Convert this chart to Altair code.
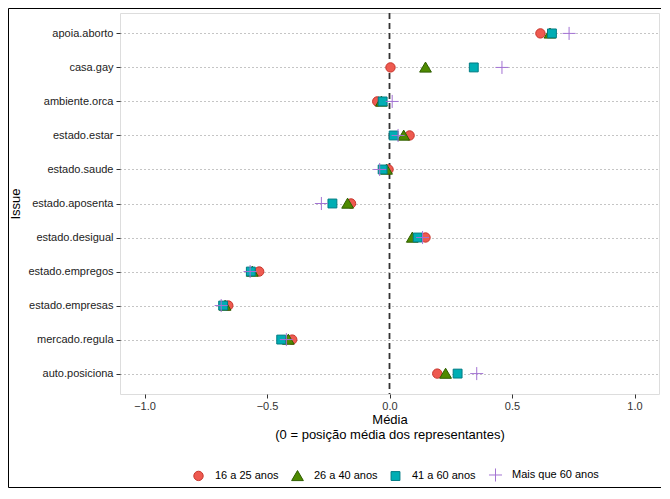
import altair as alt
import pandas as pd

issues = ["apoia.aborto", "casa.gay", "ambiente.orca", "estado.estar", "estado.saude",
          "estado.aposenta", "estado.desigual", "estado.empregos", "estado.empresas",
          "mercado.regula", "auto.posiciona"]
groups = ["16 a 25 anos", "26 a 40 anos", "41 a 60 anos", "Mais que 60 anos"]

v_16_25 = [0.616, 0.004, -0.050, 0.082, -0.004, -0.157, 0.147, -0.532, -0.658, -0.397, 0.195]
v_26_40 = [0.655, 0.147, -0.033, 0.058, -0.012, -0.171, 0.093, -0.560, -0.671, -0.413, 0.229]
v_41_60 = [0.663, 0.344, -0.028, 0.017, -0.028, -0.233, 0.115, -0.566, -0.679, -0.442, 0.278]
v_60p = [0.733, 0.459, 0.011, 0.035, -0.040, -0.278, 0.135, -0.569, -0.687, -0.421, 0.356]

rows = []
for g, vals in zip(groups, [v_16_25, v_26_40, v_41_60, v_60p]):
    for iss, v in zip(issues, vals):
        rows.append({"issue": iss, "grupo": g, "media": v})
df = pd.DataFrame(rows)
zero = pd.DataFrame({"x": [0.0]})

fills = ["#EE5A50", "#4E8A00", "#00AEB4", "#A373D3"]
strokes = ["#C8372E", "#2F5E00", "#007C84", "#A373D3"]
shapes = [
    "M-0.72,0A0.72,0.72 0 1,0 0.72,0A0.72,0.72 0 1,0 -0.72,0Z",
    "M0,-0.82L0.9,0.72L-0.9,0.72Z",
    "M-0.68,-0.68H0.68V0.68H-0.68Z",
    "M-1,0H1M0,-1V1",
]

font = "Liberation Sans"

base = alt.Chart(df)

points = base.mark_point(filled=False, opacity=1, strokeWidth=1, size=170).encode(
    x=alt.X("media:Q", scale=alt.Scale(domain=[-1.1, 1.1], nice=False, zero=False),
            axis=alt.Axis(values=[-1.0, -0.5, 0.0, 0.5, 1.0], format=".1f", grid=False,
                          title=["Média", "(0 = posição média dos representantes)"],
                          titleFontWeight="normal", titleFontSize=13, titleColor="#000",
                          titlePadding=2, labelFontSize=11, labelColor="#333",
                          tickColor="#333", tickSize=4, domain=False, labelPadding=2)),
    y=alt.Y("issue:N", sort=issues, scale=alt.Scale(type="point", padding=0.6),
            axis=alt.Axis(title="Issue", titleFontWeight="normal", titleFontSize=13,
                          titleColor="#000", titlePadding=6, labelFontSize=11,
                          labelColor="#222", tickColor="#333", tickSize=4, domain=False,
                          grid=True, gridColor="#8a8a8a", gridDash=[1, 3], gridWidth=1,
                          labelPadding=3)),
    fill=alt.Fill("grupo:N", sort=groups, scale=alt.Scale(domain=groups, range=fills),
                  legend=alt.Legend(title=None, orient="none", direction="horizontal",
                                    legendX=71, legendY=454, labelFontSize=11,
                                    labelColor="#000", labelOffset=9, columnPadding=10,
                                    symbolStrokeWidth=1, symbolSize=170)),
    stroke=alt.Stroke("grupo:N", sort=groups, scale=alt.Scale(domain=groups, range=strokes)),
    shape=alt.Shape("grupo:N", sort=groups, scale=alt.Scale(domain=groups, range=shapes)),
)

zline = alt.Chart(zero).mark_rule(color="#333", strokeWidth=1.8, strokeDash=[6, 4]).encode(
    x="x:Q"
)

border = alt.Chart(zero).mark_rect(fill=None, stroke="#000", strokeWidth=1, clip=False).encode(
    x=alt.value(-111.5), x2=alt.value(541.5), y=alt.value(-4.5), y2=alt.value(474.5)
)

chart = alt.layer(zline, points, border).properties(
    width=539, height=381,
    autosize=alt.AutoSizeParams(type="none"),
    padding={"left": 112, "top": 5, "right": 2, "bottom": 94},
).configure_view(stroke="#000", strokeWidth=1.2).configure(
    font=font
).configure_axis(labelFont=font, titleFont=font).configure_legend(labelFont=font)

chart.save("out.html", embed_options={"renderer": "svg", "actions": False})
